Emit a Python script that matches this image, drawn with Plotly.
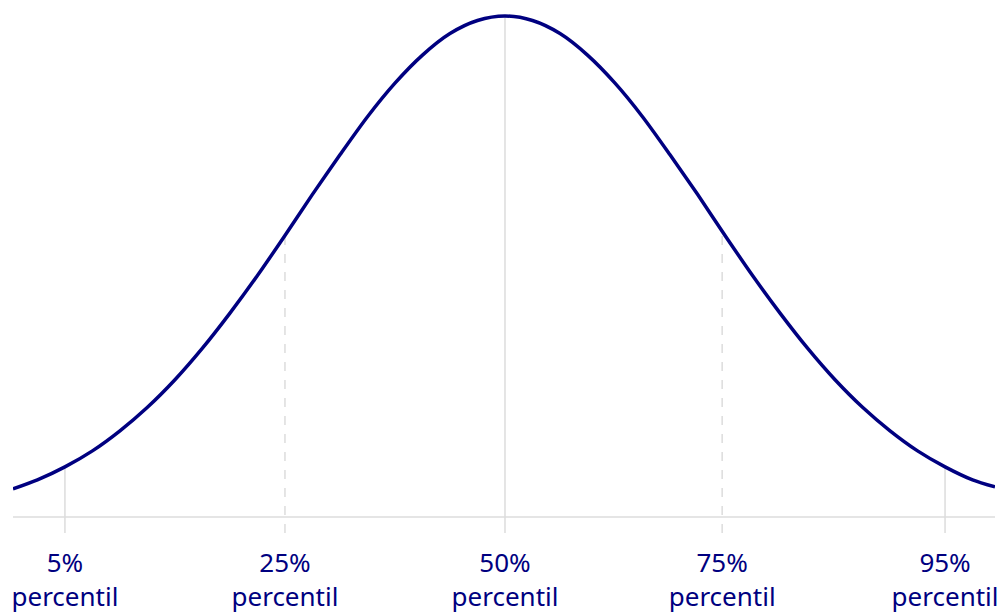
import plotly.graph_objects as go

# Curve points (x in tick units, y relative to peak)
curve_x = [-2.236, -2.125, -2.0, -1.875, -1.75, -1.625, -1.5, -1.375, -1.25, -1.125,
           -1.0, -0.875, -0.75, -0.625, -0.5, -0.375, -0.25, -0.125, 0.0,
           0.125, 0.25, 0.375, 0.5, 0.625, 0.75, 0.875, 1.0, 1.125, 1.25,
           1.375, 1.5, 1.625, 1.75, 1.875, 2.0, 2.125, 2.227]
curve_y = [0.056, 0.074, 0.100, 0.132, 0.172, 0.219, 0.274, 0.337, 0.407, 0.482,
           0.562, 0.644, 0.723, 0.799, 0.866, 0.922, 0.965, 0.991, 1.0,
           0.991, 0.965, 0.922, 0.866, 0.799, 0.723, 0.644, 0.562, 0.482, 0.407,
           0.337, 0.274, 0.219, 0.172, 0.132, 0.100, 0.074, 0.060]

# Percentile markers
marker_x = [-2, -1, 0, 0.987, 2]
marker_top = [0.100, 0.562, 1.0, 0.567, 0.100]
marker_dash = ["solid", "dash", "solid", "dash", "solid"]
tick_labels = ["5%<br>percentil", "25%<br>percentil", "50%<br>percentil",
               "75%<br>percentil", "95%<br>percentil"]

NAVY = "#000080"
GRID = "#dcdcdc"
y_low = -16 / 501
y_high = 1 + 6 / 501
x_low, x_high = curve_x[0], curve_x[-1]

fig = go.Figure()

# baseline (axis line)
fig.add_trace(go.Scatter(x=[x_low, x_high], y=[0, 0], mode="lines",
                         line=dict(color=GRID, width=1.5), hoverinfo="skip",
                         showlegend=False))

for mx, mt, md in zip(marker_x, marker_top, marker_dash):
    fig.add_trace(go.Scatter(x=[mx, mx], y=[y_low, mt], mode="lines",
                             line=dict(color=GRID, width=1.5, dash=md),
                             hoverinfo="skip", showlegend=False))

fig.add_trace(go.Scatter(x=curve_x, y=curve_y, mode="lines",
                         line=dict(color=NAVY, width=3.5, shape="spline", smoothing=0.8),
                         showlegend=False))

fig.update_layout(
    width=1002, height=614,
    margin=dict(l=13, r=7, t=10, b=81, autoexpand=False),
    paper_bgcolor="white", plot_bgcolor="white",
    font=dict(family="Noto Sans", color=NAVY, size=26),
    xaxis=dict(range=[x_low, x_high], tickvals=marker_x, ticktext=tick_labels,
               showgrid=False, zeroline=False, showline=False, ticks="",
               automargin=False, ticklabelstandoff=12,
               tickfont=dict(size=26, color=NAVY)),
    yaxis=dict(range=[y_low, y_high], visible=False, showgrid=False,
               zeroline=False, automargin=False),
)

fig.write_html("out.html",
               config={"displayModeBar": False},
               post_script="document.body.style.margin='0px';document.body.style.overflow='hidden';")
